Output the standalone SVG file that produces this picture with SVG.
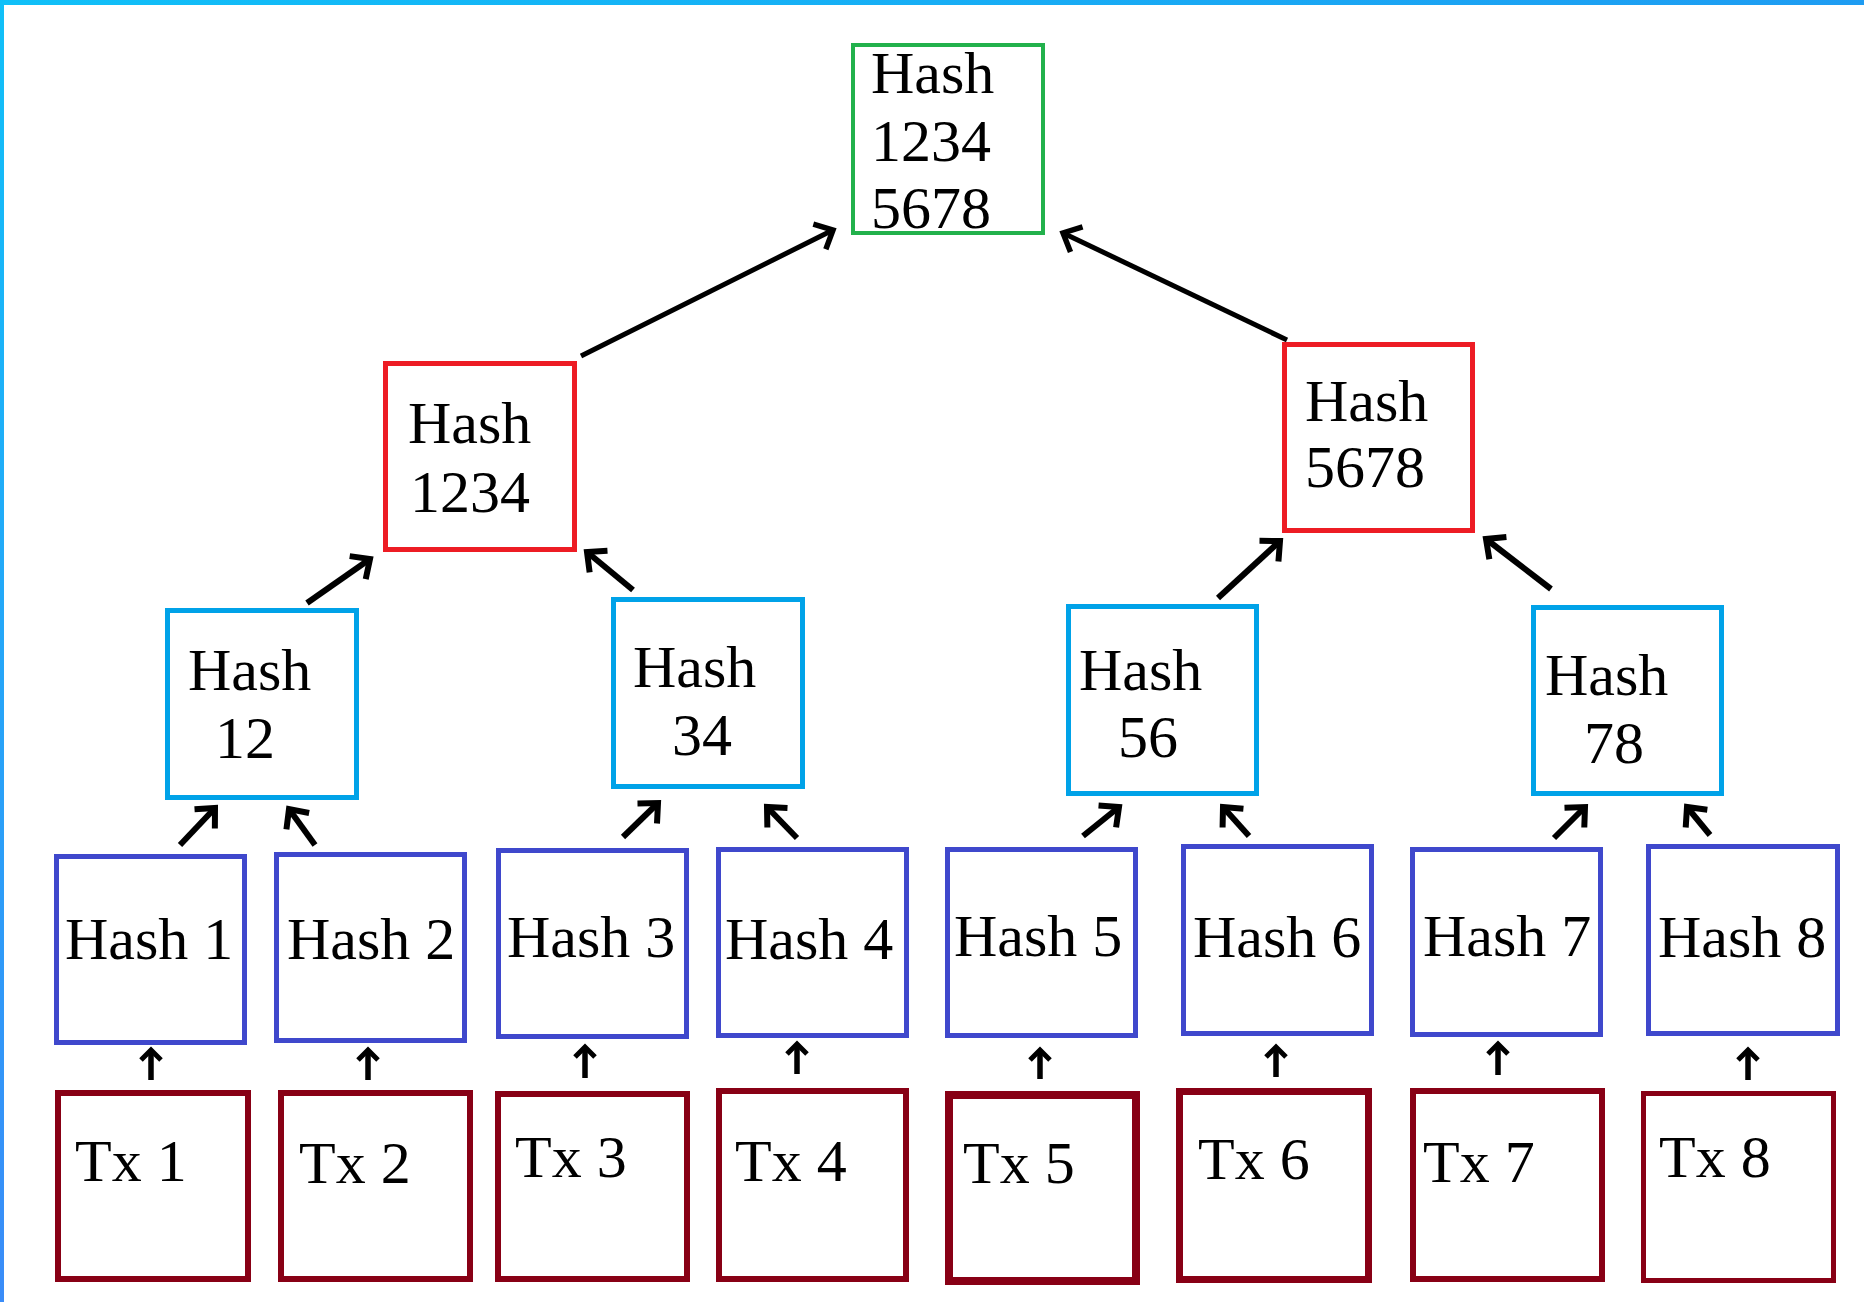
<svg xmlns="http://www.w3.org/2000/svg" width="1864" height="1302" viewBox="0 0 1864 1302">
<style>
text{font-family:"Liberation Serif","Times New Roman",serif;font-size:60px;fill:#000}
rect.box{fill:#fff}
.root{stroke:#22b14c;stroke-width:4}
.mid{stroke:#ed1c24;stroke-width:5}
.l2{stroke:#00a2e8;stroke-width:5}
.leaf{stroke:#3f48cc;stroke-width:5}
.tx{stroke:#880015;stroke-width:6}
.arr{stroke:#000;stroke-width:5;fill:none;marker-end:url(#ah)}
.arr2{stroke:#000;stroke-width:6;fill:none;marker-end:url(#ah2)}
.up{stroke:#000;stroke-width:5.5;fill:none;marker-end:url(#ahs)}
</style>
<defs>
<linearGradient id="gt" x1="0" y1="0" x2="1" y2="0"><stop offset="0" stop-color="#10c0f8"/><stop offset="1" stop-color="#1e9cf2"/></linearGradient>
<linearGradient id="gl" x1="0" y1="0" x2="0" y2="1"><stop offset="0" stop-color="#10c0f8"/><stop offset="1" stop-color="#3a8cf8"/></linearGradient>
<marker id="ah" markerUnits="userSpaceOnUse" viewBox="-30 -30 60 60" markerWidth="60" markerHeight="60" refX="0" refY="0" orient="auto" overflow="visible"><path d="M-15,-14 L0,0 L-15,14" fill="none" stroke="#000" stroke-width="5.5"/></marker>
<marker id="ah2" markerUnits="userSpaceOnUse" viewBox="-30 -30 60 60" markerWidth="60" markerHeight="60" refX="0" refY="0" orient="auto" overflow="visible"><path d="M-15,-14 L0,0 L-15,14" fill="none" stroke="#000" stroke-width="6"/></marker>
<marker id="ahs" markerUnits="userSpaceOnUse" viewBox="-30 -30 60 60" markerWidth="60" markerHeight="60" refX="0" refY="0" orient="auto" overflow="visible"><path d="M-10,-10 L0,0 L-10,10" fill="none" stroke="#000" stroke-width="5"/></marker>
</defs>
<rect x="0" y="0" width="1864" height="1302" fill="#fff"/>
<rect x="0" y="0" width="1864" height="5" fill="url(#gt)"/>
<rect x="0" y="0" width="4" height="1302" fill="url(#gl)"/>

<g id="connectors">
<line class="arr" x1="581" y1="356" x2="833" y2="230"/>
<line class="arr" x1="1287" y1="340" x2="1063" y2="233"/>
<line class="arr2" x1="307" y1="603" x2="370" y2="559"/>
<line class="arr2" x1="633" y1="590" x2="587" y2="552"/>
<line class="arr2" x1="1218" y1="598" x2="1280" y2="541"/>
<line class="arr2" x1="1551" y1="589" x2="1486" y2="539"/>
<line class="arr2" x1="180" y1="845" x2="215" y2="808"/>
<line class="arr2" x1="315" y1="845" x2="289" y2="809"/>
<line class="arr2" x1="623" y1="837" x2="658" y2="803"/>
<line class="arr2" x1="797" y1="838" x2="767" y2="807"/>
<line class="arr2" x1="1083" y1="836" x2="1119" y2="807"/>
<line class="arr2" x1="1249" y1="836" x2="1223" y2="807"/>
<line class="arr2" x1="1554" y1="838" x2="1585" y2="807"/>
<line class="arr2" x1="1710" y1="835" x2="1687" y2="807"/>
<line class="up" x1="151" y1="1080" x2="151" y2="1050"/>
<line class="up" x1="368" y1="1080" x2="368" y2="1050"/>
<line class="up" x1="585" y1="1078" x2="585" y2="1047"/>
<line class="up" x1="797" y1="1074" x2="797" y2="1044"/>
<line class="up" x1="1040" y1="1079" x2="1040" y2="1050"/>
<line class="up" x1="1276" y1="1077" x2="1276" y2="1047"/>
<line class="up" x1="1498" y1="1075" x2="1498" y2="1044"/>
<line class="up" x1="1748" y1="1080" x2="1748" y2="1050"/>
</g>

<g id="hash12345678"><rect class="box root" x="853" y="45" width="190" height="188"/><text x="871" y="93">Hash</text><text x="871" y="161">1234</text><text x="871" y="228">5678</text></g>
<g id="hash1234"><rect class="box mid" x="385.5" y="363.5" width="189" height="186"/><text x="408" y="443">Hash</text><text x="410" y="512">1234</text></g>
<g id="hash5678"><rect class="box mid" x="1284.5" y="344.5" width="188" height="186"/><text x="1305" y="421">Hash</text><text x="1305" y="487">5678</text></g>
<g id="hash12"><rect class="box l2" x="167.5" y="610.5" width="189" height="187"/><text x="188" y="690">Hash</text><text x="215" y="758">12</text></g>
<g id="hash34"><rect class="box l2" x="613.5" y="599.5" width="189" height="187"/><text x="633" y="687">Hash</text><text x="672" y="755">34</text></g>
<g id="hash56"><rect class="box l2" x="1068.5" y="606.5" width="188" height="187"/><text x="1079" y="690">Hash</text><text x="1118" y="757">56</text></g>
<g id="hash78"><rect class="box l2" x="1533.5" y="607.5" width="188" height="186"/><text x="1545" y="695">Hash</text><text x="1584" y="763">78</text></g>

<g id="hash1"><rect class="box leaf" x="56.5" y="856.5" width="188" height="186"/><text x="65" y="959">Hash 1</text></g>
<g id="hash2"><rect class="box leaf" x="276.5" y="854.5" width="188" height="186"/><text x="287" y="959">Hash 2</text></g>
<g id="hash3"><rect class="box leaf" x="498.5" y="850.5" width="188" height="186"/><text x="507" y="957">Hash 3</text></g>
<g id="hash4"><rect class="box leaf" x="718.5" y="849.5" width="188" height="186"/><text x="725" y="959">Hash 4</text></g>
<g id="hash5"><rect class="box leaf" x="947.5" y="849.5" width="188" height="186"/><text x="954" y="956">Hash 5</text></g>
<g id="hash6"><rect class="box leaf" x="1183.5" y="846.5" width="188" height="187"/><text x="1193" y="957">Hash 6</text></g>
<g id="hash7"><rect class="box leaf" x="1412.5" y="849.5" width="188" height="185"/><text x="1423" y="956">Hash 7</text></g>
<g id="hash8"><rect class="box leaf" x="1648.5" y="846.5" width="189" height="187"/><text x="1658" y="957">Hash 8</text></g>

<g id="tx1"><rect class="box tx" x="58" y="1093" width="190" height="186"/><text x="75" y="1181">Tx 1</text></g>
<g id="tx2"><rect class="box tx" x="281" y="1093" width="189" height="186"/><text x="299" y="1183">Tx 2</text></g>
<g id="tx3"><rect class="box tx" x="498" y="1094" width="189" height="185"/><text x="515" y="1177">Tx 3</text></g>
<g id="tx4"><rect class="box tx" x="719" y="1091" width="187" height="188"/><text x="735" y="1181">Tx 4</text></g>
<g id="tx5"><rect class="box tx" x="949" y="1095" width="187" height="186" style="stroke-width:8"/><text x="963" y="1183">Tx 5</text></g>
<g id="tx6"><rect class="box tx" x="1179.5" y="1091.5" width="189" height="188" style="stroke-width:7"/><text x="1198" y="1179">Tx 6</text></g>
<g id="tx7"><rect class="box tx" x="1413" y="1091" width="189" height="188"/><text x="1423" y="1182">Tx 7</text></g>
<g id="tx8"><rect class="box tx" x="1643.5" y="1093.5" width="190" height="187" style="stroke-width:5"/><text x="1659" y="1177">Tx 8</text></g>
</svg>
